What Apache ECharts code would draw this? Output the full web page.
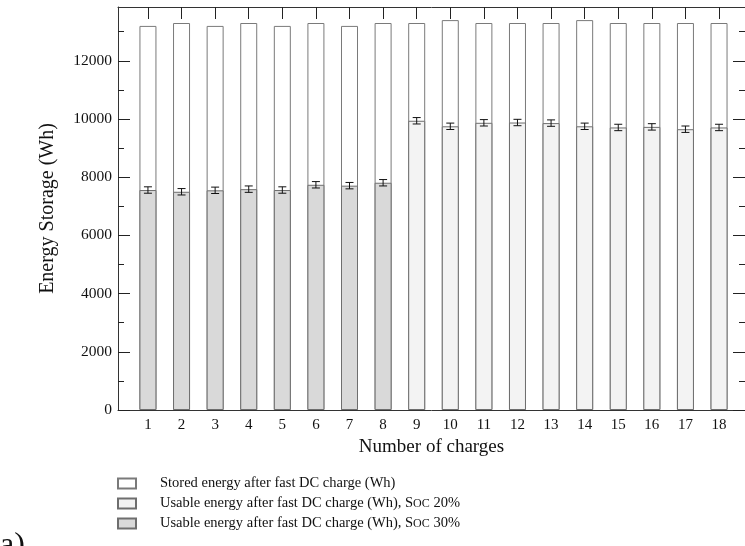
<!DOCTYPE html>
<html>
<head>
<meta charset="utf-8">
<script src="https://cdn.jsdelivr.net/npm/echarts@6/dist/echarts.min.js"></script>
<style>
  html, body { margin: 0; padding: 0; background: #fff; }
  #chart { width: 745px; height: 546px; }
</style>
</head>
<body>
<div id="chart"></div>
<script>
// Charge cycles and measured energies (Wh)
const charges = [1, 2, 3, 4, 5, 6, 7, 8, 9, 10, 11, 12, 13, 14, 15, 16, 17, 18];
const storedEnergy = [13200, 13300, 13200, 13300, 13200, 13300, 13200, 13300, 13300,
                      13400, 13300, 13300, 13300, 13400, 13300, 13300, 13300, 13300];
// Usable energy at SOC 30% (charges 1-8) and SOC 20% (charges 9-18)
const soc30Charges = [1, 2, 3, 4, 5, 6, 7, 8];
const usableSoc30 = [7560, 7500, 7550, 7590, 7560, 7740, 7710, 7810];
const errSoc30 = [110, 110, 110, 110, 110, 110, 110, 110];
const soc20Charges = [9, 10, 11, 12, 13, 14, 15, 16, 17, 18];
const usableSoc20 = [9940, 9750, 9870, 9880, 9860, 9750, 9710, 9730, 9650, 9710];
const errSoc20 = [110, 110, 110, 110, 110, 110, 110, 110, 110, 110];
const yMajorTicks = [0, 2000, 4000, 6000, 8000, 10000, 12000];
const yMinorTicks = [1000, 3000, 5000, 7000, 9000, 11000, 13000];
const legendNames = [
  'Stored energy after fast DC charge (Wh)',
  'Usable energy after fast DC charge (Wh), SOC 20%',
  'Usable energy after fast DC charge (Wh), SOC 30%'
];

const FONT = '"Liberation Serif", "DejaVu Serif", serif';
const Y_MAX = 13850;
const X_MIN = 0.1085, X_MAX = 18.7727;

const pairs = (xs, ys) => xs.map((x, i) => [x, ys[i]]);
const errData = soc30Charges.map((x, i) => [x, usableSoc30[i], errSoc30[i]])
  .concat(soc20Charges.map((x, i) => [x, usableSoc20[i], errSoc20[i]]));

function yAxisBase(extra) {
  return Object.assign({
    type: 'value', min: 0, max: Y_MAX, gridIndex: 0,
    splitLine: { show: false },
    axisLabel: { show: false },
    axisLine: { show: false }
  }, extra);
}

const chart = echarts.init(document.getElementById('chart'));
chart.setOption({
  animation: false,
  backgroundColor: '#fff',
  textStyle: { fontFamily: FONT },
  grid: { left: 118, top: 7, width: 628, height: 403 },
  xAxis: [
    {
      type: 'value', min: X_MIN, max: X_MAX, position: 'bottom',
      name: 'Number of charges', nameLocation: 'middle', nameGap: 22,
      nameTextStyle: { fontFamily: FONT, fontSize: 19, color: '#111' },
      axisLine: { show: true, onZero: false, lineStyle: { color: '#333', width: 1 } },
      axisTick: { show: true, inside: true, length: 12, customValues: charges, lineStyle: { color: '#222' } },
      axisLabel: { customValues: charges, fontFamily: FONT, fontSize: 15, color: '#111', margin: 8 },
      splitLine: { show: false }
    },
    {
      type: 'value', min: X_MIN, max: X_MAX, position: 'top',
      axisLine: { show: true, onZero: false, lineStyle: { color: '#333', width: 1 } },
      axisTick: { show: true, inside: true, length: 12, customValues: charges, lineStyle: { color: '#222' } },
      axisLabel: { show: false },
      splitLine: { show: false }
    }
  ],
  yAxis: [
    yAxisBase({
      position: 'left',
      name: 'Energy Storage (Wh)', nameLocation: 'middle', nameGap: 60,
      nameTextStyle: { fontFamily: FONT, fontSize: 20, color: '#111' },
      axisLine: { show: true, onZero: false, lineStyle: { color: '#333', width: 1 } },
      axisTick: { show: true, inside: true, length: 12, customValues: yMajorTicks, lineStyle: { color: '#222' } },
      axisLabel: {
        show: true, customValues: yMajorTicks, fontFamily: FONT, fontSize: 15.5, color: '#111', margin: 6,
        formatter: v => String(v)
      }
    }),
    yAxisBase({
      position: 'left',
      axisTick: { show: true, inside: true, length: 6, customValues: yMinorTicks, lineStyle: { color: '#222' } }
    }),
    yAxisBase({
      position: 'right',
      axisTick: { show: true, inside: true, length: 12, customValues: yMajorTicks, lineStyle: { color: '#222' } }
    }),
    yAxisBase({
      position: 'right',
      axisTick: { show: true, inside: true, length: 6, customValues: yMinorTicks, lineStyle: { color: '#222' } }
    })
  ],
  legend: {
    orient: 'vertical', left: 117, top: 476, itemGap: 5, padding: 0,
    itemWidth: 18, itemHeight: 10,
    selectedMode: false,
    data: legendNames.map(n => ({ name: n, icon: 'rect' })),
    formatter: function (name) {
      return name.replace('SOC', '{s|S}{oc|OC}');
    },
    textStyle: {
      fontFamily: FONT, fontSize: 14.5, color: '#111', padding: [0, 0, 0, 19],
      rich: {
        s: { fontFamily: FONT, fontSize: 14.5, color: '#111' },
        oc: { fontFamily: FONT, fontSize: 12, color: '#111' }
      }
    }
  },
  graphic: [{
    type: 'text', left: 0, top: 530,
    style: { text: 'a)', font: '32px ' + FONT, fill: '#111' }
  }],
  series: [
    {
      name: legendNames[0], type: 'bar', barWidth: 17, barGap: '-100%',
      xAxisIndex: 0, yAxisIndex: 0,
      data: pairs(charges, storedEnergy),
      itemStyle: { color: '#ffffff', borderColor: '#7a7a7a', borderWidth: 1 },
      z: 2
    },
    {
      name: legendNames[1], type: 'bar', barWidth: 17, barGap: '-100%',
      xAxisIndex: 0, yAxisIndex: 0,
      data: pairs(soc20Charges, usableSoc20),
      itemStyle: { color: '#f3f3f3', borderColor: '#6e6e6e', borderWidth: 1 },
      z: 3
    },
    {
      name: legendNames[2], type: 'bar', barWidth: 17, barGap: '-100%',
      xAxisIndex: 0, yAxisIndex: 0,
      data: pairs(soc30Charges, usableSoc30),
      itemStyle: { color: '#d9d9d9', borderColor: '#6e6e6e', borderWidth: 1 },
      z: 3
    },
    {
      type: 'custom', xAxisIndex: 0, yAxisIndex: 0, z: 5,
      data: errData,
      renderItem: function (params, api) {
        const x = api.value(0), v = api.value(1), e = api.value(2);
        const hi = api.coord([x, v + e]);
        const lo = api.coord([x, v - e]);
        const cap = 4;
        const style = { stroke: '#111', lineWidth: 1 };
        return {
          type: 'group',
          children: [
            { type: 'line', shape: { x1: hi[0], y1: hi[1], x2: lo[0], y2: lo[1] }, style: style },
            { type: 'line', shape: { x1: hi[0] - cap, y1: hi[1], x2: hi[0] + cap, y2: hi[1] }, style: style },
            { type: 'line', shape: { x1: lo[0] - cap, y1: lo[1], x2: lo[0] + cap, y2: lo[1] }, style: style }
          ]
        };
      }
    }
  ]
});
</script>
</body>
</html>
